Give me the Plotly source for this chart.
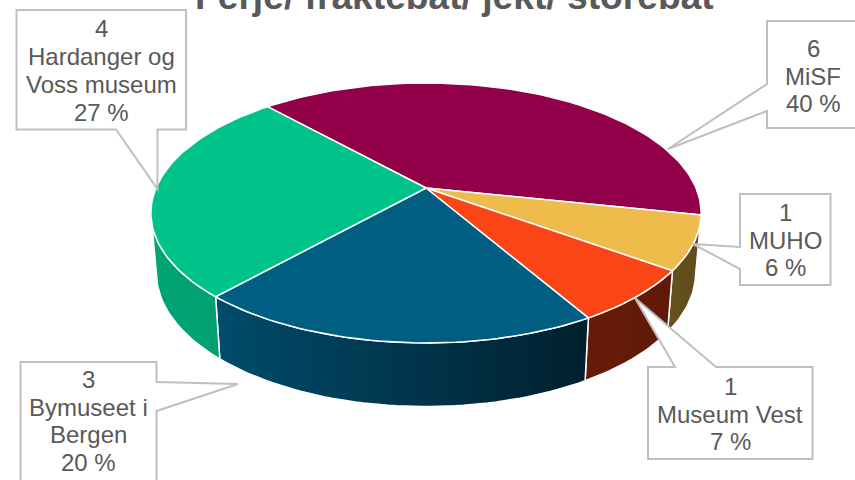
import math
import plotly.graph_objects as go

# Data
categories = ["MiSF", "MUHO", "Museum Vest", "Bymuseet i Bergen", "Hardanger og Voss museum"]
counts = [6, 1, 1, 3, 4]
percent_labels = ["40 %", "6 %", "7 %", "20 %", "27 %"]

# Styles
top_colors = ["#910048", "#EFBC4B", "#FA4616", "#005E82", "#00C389"]
side_colors = [("#6B0035", "#6B0035"), ("#66521E", "#5F4C1C"), ("#661B08", "#611A07"),
               ("#004C6C", "#00202E"), ("#00A574", "#00A072")]
TITLE = "Ferje/ fraktebåt/ jekt/ storebåt"
GREY = "#595959"
BORDER = "#BFBFBF"

# Perspective pie geometry
CX, CY = 426.0, 188.0
A, B, K = 270.0, 125.2, 0.192
START = 317.9
LOWER_X, LOWER_Y, DEPTH = 0.98, 1.03, 59.0
TANGENT = math.degrees(math.acos(-K))  # where the rim meets the silhouette


def project(deg, lower=False):
    t = math.radians(deg)
    u, v = math.sin(t), -math.cos(t)
    w = 1 / (1 - K * v)
    dx, dy = A * u * w, B * v * w
    if lower:
        return CX + LOWER_X * dx, CY + LOWER_Y * dy + DEPTH
    return CX + dx, CY + dy


def arc(a0, a1, lower=False):
    n = max(2, int(abs(a1 - a0) / 1.5) + 1)
    return [project(a0 + (a1 - a0) * i / n, lower) for i in range(n + 1)]


fig = go.Figure()
total = sum(counts)
edges = [START]
for c in counts:
    edges.append(edges[-1] + 360 * c / total)

# Side walls (only the part facing the viewer)
for i, c in enumerate(counts):
    a0, a1 = edges[i] % 360, edges[i] % 360 + 360 * c / total
    candidates = [(max(a0, TANGENT), min(a1, 360 - TANGENT)),
                  (max(a0 - 360, TANGENT), min(a1 - 360, 360 - TANGENT))]
    for lo, hi in candidates:
        if hi <= lo:
            continue
        pts = arc(lo, hi) + arc(hi, lo, True)
        pts.append(pts[0])
        fig.add_trace(go.Scatter(
            x=[p[0] for p in pts], y=[p[1] for p in pts], mode="lines", fill="toself",
            fillgradient=dict(type="horizontal",
                              colorscale=[[0, side_colors[i][0]], [1, side_colors[i][1]]]),
            line=dict(color="white", width=1.5), hoverinfo="skip", showlegend=False,
            name=categories[i]))

# Top faces
for i, c in enumerate(counts):
    pts = [(CX, CY)] + arc(edges[i], edges[i + 1]) + [(CX, CY)]
    fig.add_trace(go.Scatter(
        x=[p[0] for p in pts], y=[p[1] for p in pts], mode="lines", fill="toself",
        fillcolor=top_colors[i], line=dict(color="white", width=1.5),
        hoverinfo="skip", showlegend=False, name=categories[i]))

# Callouts: box, wedge, text centre
callouts = {
    "MiSF": dict(path="M767,21 L860,21 L860,128 L767,128 L767,111 L668,149 L767,84 Z", tx=813, ty=76),
    "MUHO": dict(path="M740,194 L830.5,194 L830.5,285 L740,285 L740,269 L693,244 L740,247 Z", tx=785, ty=240),
    "Museum Vest": dict(path="M648,367 L675,367 L635,298 L716,367 L812.5,367 L812.5,459 L648,459 Z", tx=730, ty=414),
    "Bymuseet i Bergen": dict(path="M20.5,362 L156.5,362 L156.5,382 L238,384 L156.5,411 L156.5,490 L20.5,490 Z", tx=88, ty=421),
    "Hardanger og Voss museum": dict(path="M16.5,10 L186,10 L186,129.5 L157.5,129.5 L157.5,189 L116,129.5 L16.5,129.5 Z", tx=101, ty=70.5),
}
wrapped = {"Bymuseet i Bergen": ["Bymuseet i", "Bergen"], "Hardanger og Voss museum": ["Hardanger og", "Voss museum"]}
LINE_STEP = 27.7

shapes, annotations = [], []
for name, count, pct in zip(categories, counts, percent_labels):
    c = callouts[name]
    shapes.append(dict(type="path", path=c["path"], xref="x", yref="y", fillcolor="white",
                       line=dict(color=BORDER, width=2), layer="above"))
    lines = [str(count)] + wrapped.get(name, [name]) + [pct]
    for j, line in enumerate(lines):
        annotations.append(dict(x=c["tx"], y=c["ty"] + (j - (len(lines) - 1) / 2) * LINE_STEP,
                                xref="x", yref="y", showarrow=False, text=line, align="center",
                                font=dict(family="Liberation Sans", size=24, color=GREY)))

annotations.append(dict(x=454, y=19, xref="x", yref="y", yanchor="bottom", showarrow=False, text=f"<b>{TITLE}</b>",
                        font=dict(family="Liberation Sans", size=37.2, color=GREY)))

fig.update_layout(
    width=855, height=480, margin=dict(l=0, r=0, t=0, b=0), paper_bgcolor="white", plot_bgcolor="white",
    xaxis=dict(range=[0, 855], visible=False, fixedrange=True),
    yaxis=dict(range=[480, 0], visible=False, fixedrange=True),
    shapes=shapes, annotations=annotations,
)
fig.write_html("out.html", config={"displayModeBar": False},
               post_script="document.body.style.margin='0';document.body.style.overflow='hidden';")
